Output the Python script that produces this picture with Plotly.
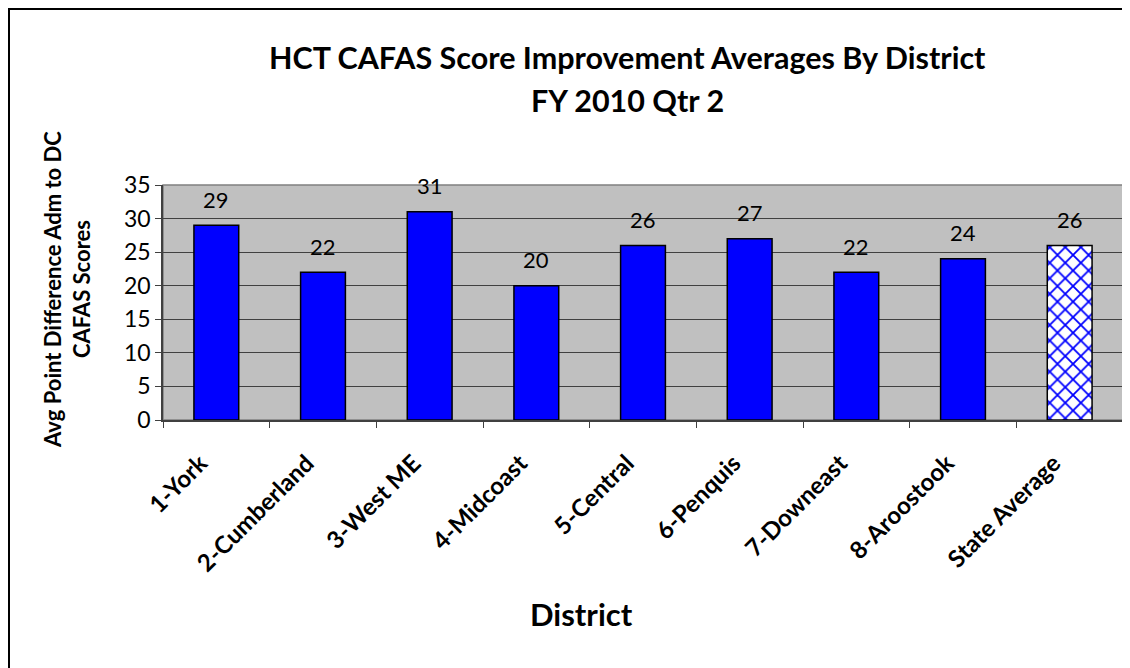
import plotly.graph_objects as go

districts = ["1-York", "2-Cumberland", "3-West ME", "4-Midcoast", "5-Central",
             "6-Penquis", "7-Downeast", "8-Aroostook", "State Average"]
scores = [29, 22, 31, 20, 26, 27, 22, 24, 26]

FONT = "Lato, Carlito, Calibri, sans-serif"
OFF = 8  # browser body margin
W, H = 1130 - OFF, 668 - OFF
PL, PR, PT, PB = 163, 1123, 185, 420  # plot area in screen pixels
L, T = PL - OFF, PT - OFF
R, B = W - (PR - OFF), H - (PB - OFF)
pw, ph = PR - PL, PB - PT

fig = go.Figure()
# district bars (solid blue)
fig.add_trace(go.Bar(
    x=districts[:-1], y=scores[:-1],
    marker=dict(color="#0000FF", line=dict(color="black", width=1.5)),
    width=0.42,
))
# state average bar (blue hatched on white)
fig.add_trace(go.Bar(
    x=districts[-1:], y=scores[-1:],
    marker=dict(color="white", line=dict(color="black", width=1.5),
                pattern=dict(shape="x", fgcolor="#0000FF", bgcolor="white",
                             fillmode="overlay", fgopacity=1,
                             size=11, solidity=0.3)),
    width=0.42,
))

for d, v in zip(districts, scores):
    fig.add_annotation(x=d, y=v, text=str(v), showarrow=False, yanchor="middle",
                       xanchor="center", yshift=26,
                       font=dict(family=FONT, size=22, color="black"))

def px_x(p):
    return (p - PL) / pw

def px_y(p):
    return (PB - p) / ph

def label(sx, sy, text, size, angle=0):
    fig.add_annotation(x=px_x(sx), y=px_y(sy), xref="paper", yref="paper",
                       xanchor="center", yanchor="middle", text=text,
                       textangle=angle, showarrow=False,
                       font=dict(family=FONT, size=size, color="black"))

label(627, 57, "<b>HCT CAFAS Score Improvement Averages By District</b>", 30.5)
label(627, 100, "<b>FY 2010 Qtr 2</b>", 30.5)
label(67, 290, "<b>Avg Point Difference Adm to DC<br>CAFAS Scores</b>", 22, -90)
label(581, 614, "<b>District</b>", 31)

# outer chart border
fig.add_shape(type="rect", xref="paper", yref="paper",
              x0=px_x(9), x1=px_x(1145), y0=px_y(690), y1=px_y(9),
              line=dict(color="black", width=2), layer="above")
# plot area border
fig.add_shape(type="rect", xref="paper", yref="paper", x0=0, x1=1, y0=0, y1=1,
              line=dict(color="#808080", width=1.5), layer="below")

fig.update_layout(
    width=W, height=H,
    margin=dict(l=L, r=R, t=T, b=B, autoexpand=False),
    paper_bgcolor="white", plot_bgcolor="#C0C0C0",
    showlegend=False, barmode="overlay",
    font=dict(family=FONT, color="black"),
)
fig.update_xaxes(
    categoryorder="array", categoryarray=districts,
    tickangle=-45, tickfont=dict(family=FONT, size=24, color="black"),
    tickprefix="<b>", ticksuffix="</b>",
    showline=True, linecolor="#404040", linewidth=1.5,
    ticks="outside", tickson="boundaries", ticklen=6, tickcolor="#404040",
    showgrid=False, ticklabelstandoff=18, ticklabelshift=-16,
)
fig.update_yaxes(
    range=[0, 35], dtick=5, tickfont=dict(family=FONT, size=23, color="black"),
    showline=True, linecolor="#404040", linewidth=1.5,
    ticks="outside", ticklen=6, tickcolor="#404040",
    showgrid=True, gridcolor="#404040", gridwidth=1, zeroline=False,
)

fig.write_html("out.html")
